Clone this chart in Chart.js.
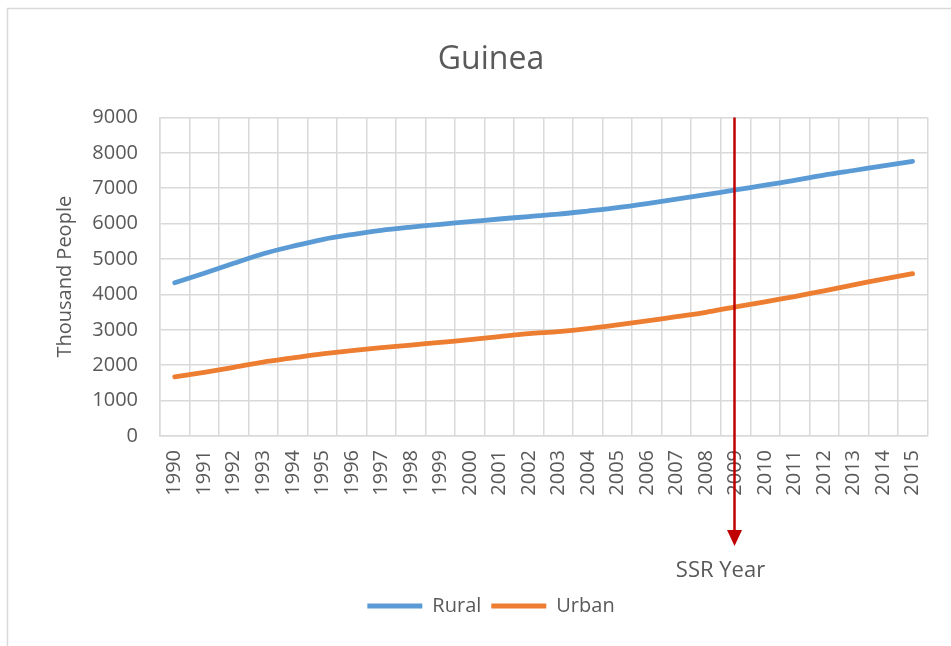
<!DOCTYPE html>
<html>
<head>
<meta charset="utf-8">
<script src="https://cdn.jsdelivr.net/npm/chart.js@4.4.1/dist/chart.umd.min.js"></script>
<style>
  html, body { margin: 0; padding: 0; background: #fff; }
  #wrap { width: 951px; height: 646px; position: relative; }
</style>
</head>
<body>
<div id="wrap"><canvas id="chart" width="951" height="646"></canvas></div>
<script>
const years = ["1990","1991","1992","1993","1994","1995","1996","1997","1998","1999","2000","2001","2002",
  "2003","2004","2005","2006","2007","2008","2009","2010","2011","2012","2013","2014","2015"];
const rural = [4330, 4600, 4880, 5150, 5360, 5550, 5690, 5810, 5900, 5980, 6055, 6130, 6200,
  6265, 6355, 6450, 6565, 6690, 6820, 6950, 7085, 7220, 7370, 7500, 7630, 7755];
const urban = [1670, 1800, 1940, 2090, 2205, 2320, 2410, 2495, 2570, 2645, 2720, 2805, 2890,
  2950, 3035, 3140, 3250, 3375, 3495, 3650, 3790, 3940, 4100, 4270, 4430, 4585];
const yTicks = [0, 1000, 2000, 3000, 4000, 5000, 6000, 7000, 8000, 9000];
const ssrYear = "2009";

const grey = "#595959";
const font = "'Open Sans', 'Liberation Sans', sans-serif";

// outer frame + SSR arrow
const extras = {
  id: "extras",
  beforeDraw(chart) {
    const ctx = chart.ctx;
    ctx.save();
    ctx.fillStyle = "#fff";
    ctx.fillRect(0, 0, chart.width, chart.height);
    ctx.strokeStyle = "#d9d9d9";
    ctx.lineWidth = 1.5;
    ctx.strokeRect(7.5, 8.5, chart.width + 10, chart.height + 10);
    ctx.restore();
  },
  afterDatasetsDraw(chart) {
    const ctx = chart.ctx;
    const x = chart.scales.x.getPixelForValue(years.indexOf(ssrYear)) - 1;
    const top = chart.chartArea.top;
    const tip = 546;
    ctx.save();
    ctx.strokeStyle = "#c00000";
    ctx.fillStyle = "#c00000";
    ctx.lineWidth = 2.5;
    ctx.beginPath();
    ctx.moveTo(x, top);
    ctx.lineTo(x, tip - 14);
    ctx.stroke();
    ctx.beginPath();
    ctx.moveTo(x - 7.5, tip - 16);
    ctx.lineTo(x + 7.5, tip - 16);
    ctx.lineTo(x, tip);
    ctx.closePath();
    ctx.fill();
    ctx.fillStyle = grey;
    ctx.font = "22px " + font;
    ctx.textAlign = "center";
    ctx.textBaseline = "middle";
    ctx.fillText("SSR Year", x - 14, 571);
    ctx.restore();
  }
};

new Chart(document.getElementById("chart"), {
  type: "line",
  data: {
    labels: years,
    datasets: [
      { label: "Rural", data: rural, borderColor: "#5b9bd5", backgroundColor: "#5b9bd5",
        borderWidth: 4.8, borderCapStyle: "round", pointRadius: 0, tension: 0.3 },
      { label: "Urban", data: urban, borderColor: "#ed7d31", backgroundColor: "#ed7d31",
        borderWidth: 4.8, borderCapStyle: "round", pointRadius: 0, tension: 0.3 }
    ]
  },
  options: {
    responsive: false,
    animation: false,
    layout: { padding: { top: 30, right: 22, bottom: 20, left: 53 } },
    plugins: {
      title: {
        display: true, text: "Guinea", color: grey,
        font: { family: font, size: 32, weight: "normal" },
        padding: { top: 11, bottom: 38 }
      },
      legend: {
        position: "bottom",
        labels: {
          color: grey, font: { family: font, size: 20 },
          usePointStyle: true, pointStyle: "line", pointStyleWidth: 55, boxHeight: 5
        }
      },
      tooltip: { enabled: false }
    },
    scales: {
      x: {
        offset: true,
        grid: { color: "#d9d9d9", lineWidth: 1.5, offset: true, drawTicks: false },
        border: { color: "#d9d9d9", width: 1.5 },
        ticks: { color: grey, font: { family: font, size: 20 }, maxRotation: 90, minRotation: 90, padding: 14 },
        afterFit(s) { s.height = 150; }
      },
      y: {
        min: 0, max: 9000,
        afterBuildTicks(s) { s.ticks = yTicks.map(v => ({ value: v })); },
        grid: { color: "#d9d9d9", lineWidth: 1.5, drawTicks: false },
        border: { color: "#d9d9d9", width: 1.5 },
        ticks: { color: grey, font: { family: font, size: 20 }, padding: 22, callback: v => String(v) },
        title: { display: true, text: "Thousand People", color: grey, font: { family: font, size: 20 }, padding: 0 },
        afterFit(s) { s.width = 107; }
      }
    }
  },
  plugins: [extras]
});
</script>
</body>
</html>
